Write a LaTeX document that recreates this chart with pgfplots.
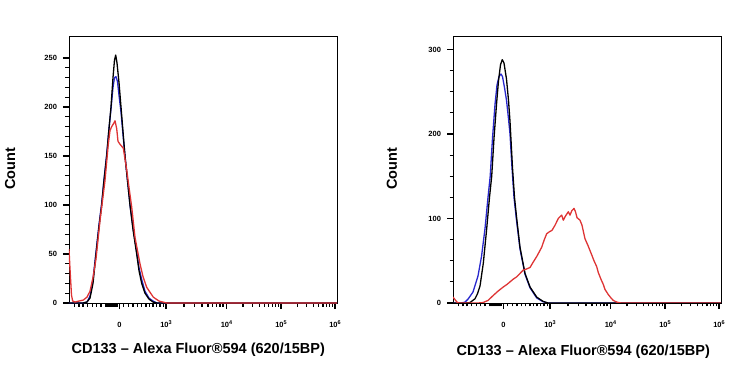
\documentclass[border=0pt]{standalone}
\usepackage{pgfplots}
\pgfplotsset{compat=1.18}
\usepackage{fontspec}
\setmainfont{Liberation Sans}
\definecolor{fblue}{RGB}{40,40,205}
\definecolor{fred}{RGB}{222,52,52}
\newcommand{\dec}[1]{10\raisebox{3.2pt}{\fontsize{5.5}{6}\selectfont #1}}

\pgfplotstableread{
x y
0 0
14 0
18 1
21 5
24 20
27 50
30 78
32.7 100
35 125
37.7 150
40 178
42 200
44 230
45.5 248
46.7 253
48 245
50 225
52 200
54 175
56 150
58.5 125
61 100
64 75
67.7 50
70 33
72.7 20
76 10
80 4
84 1
88 0
268 0
}\LeftBlack

\pgfplotstableread{
x y
0 0
14 0
18 1
21 7
24 24
27 52
30 80
32.7 102
35 126
37.7 152
40 178
42 198
44 220
45.5 230
47 231
48.5 226
50 212
52 195
54 172
56 150
58.5 125
61 100
64 77
67.7 52
70 36
72.7 24
76 12
80 5
84 2
88 0
268 0
}\LeftBlue

\pgfplotstableread{
x y
0 55
1 35
2.5 8
3.7 2
6 1
10 2
14.3 3
18 6
21 12
24 26
27 45
31 84
36 125
39.3 162
41 176
42.7 180
44.5 183
46 186
47.7 178
49 165
51 162
54.3 158
57.7 136
60 118
62.7 98
66 67
71 40
74 27
77.7 16
84.3 6
90 2
97.7 0
268 0
}\LeftRed

\pgfplotstableread{
x y
0 0
12 0
17 0.5
22 5
24.5 11
27 20
30.3 47
33.7 88
36.5 125
38.7 150
41 195
43.5 235
45.5 263
47.5 282
49.3 288
51 284
53.5 265
55.5 240
57 215
59.5 160
61.5 125
63.7 100
67 66
72 35
77 19
83.7 7
90 2
95 0
268 0
}\RightBlack

\pgfplotstableread{
x y
0 0
8 0
12 1
15.3 5
20 13
25 32
28.5 55
32 88
35 125
37.2 150
39.5 195
42 235
44 258
46 268
48 271
49.5 268
51.5 255
53.5 240
55.5 218
57 200
59 160
61 125
63.5 98
67 64
72 34
77 18
83.7 6
90 1.5
95 0
268 0
}\RightBlue

\pgfplotstableread{
x y
0 7
2 4
4 1
6 0
25 0
30 0.5
35 3
40.3 9
45 14
50.3 19
54 22
57 25
60 28
63.7 31
67 35
70.3 39
73 40
77 42
80 48
83.7 55
86 60
88.7 66
91 74
93.7 82
96 84
99 86
102 92
105.3 100
107 102
108.7 104
110.3 98
112 102
115.3 108
117 104
118.7 109
121 112
122.5 108
124 101
127 98
129 92
132 76
135 68
138.7 57
141 50
143.7 43
145.3 36
148 28
150.3 22
152 16
155.3 10
158 6
160.3 3
164 1
168 0
268 0
}\RightRed

\pgfplotsset{
  flowaxis/.style={
    scale only axis, width=268pt, height=267pt,
    xmin=0, xmax=268, ymin=0,
    tick align=outside, tick pos=left,
    major tick length=6pt, minor tick length=3.5pt,
    every tick/.style={black, line width=1.1pt},
    /pgf/number format/assume math mode=true,
    xtick={50.5,97,157.5,212,266},
    xticklabels={0,\dec{3},\dec{4},\dec{5},\dec{6}},
    minor xtick={5.5,10,14,18.7,23.2,27.5,32,37,38,39,40,41,42,43,44,45,46,47,48,54.5,59.5,64,68.5,72.8,77,80.6,84,87.7,91,94.3,115,125.6,133,139,143.7,147.7,151,154,174,183.5,190.3,195.6,199.9,203.6,206.7,209.5,228.3,237.8,244.5,249.7,254,257.6,260.8,263.5},
    tick label style={font=\fontsize{7.5}{8}\selectfont\bfseries},
    xticklabel style={anchor=base, yshift=-18.5pt},
    yticklabel style={xshift=-2.5pt},
    xlabel style={font=\fontsize{14.5}{16}\selectfont\bfseries},
    ylabel style={font=\fontsize{14.5}{16}\selectfont\bfseries},
    xlabel={CD133 – Alexa Fluor®594 (620/15BP)},
    ylabel={Count},
  },
  cv/.style={line width=1.3pt, line join=round, #1}
}

\begin{document}
\begin{tikzpicture}
\path[use as bounding box] (0,0) rectangle (750pt,375pt);

\begin{axis}[flowaxis, at={(69pt,72pt)}, anchor=south west,
  ymax=272.5, ytick={0,50,100,150,200,250}, minor y tick num=4,
  xlabel style={at={(axis description cs:0.4825,-0.176)}, anchor=center},
  ylabel style={at={(axis description cs:-0.22,0.502)}, anchor=center}]
\addplot[cv=fblue] table[x=x,y=y] {\LeftBlue};
\addplot[cv=black] table[x=x,y=y] {\LeftBlack};
\addplot[cv=fred] table[x=x,y=y] {\LeftRed};
\node[rotate=90, anchor=west, inner sep=0pt, font=\fontsize{11}{12}\selectfont] at (axis description cs:1.036,-0.011) {Copyright (c) 2022 Abcam Plc};
\end{axis}

\begin{axis}[flowaxis, at={(453pt,72pt)}, anchor=south west,
  ymax=316, ytick={0,100,200,300}, minor y tick num=3,
  xlabel style={at={(axis description cs:0.486,-0.182)}, anchor=center},
  ylabel style={at={(axis description cs:-0.2276,0.502)}, anchor=center}]
\addplot[cv=fblue] table[x=x,y=y] {\RightBlue};
\addplot[cv=black] table[x=x,y=y] {\RightBlack};
\addplot[cv=fred] table[x=x,y=y] {\RightRed};
\node[rotate=90, anchor=west, inner sep=0pt, font=\fontsize{11}{12}\selectfont] at (axis description cs:1.04,-0.011) {Copyright (c) 2022 Abcam Plc};
\end{axis}
\end{tikzpicture}
\end{document}
